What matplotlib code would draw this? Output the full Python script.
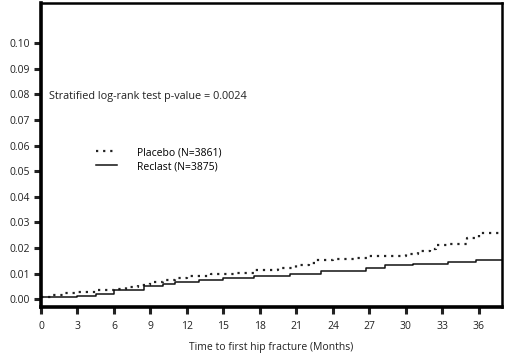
import matplotlib
matplotlib.use("Agg")
from matplotlib import pyplot as plt

# cumulative incidence (step curves)
placebo_t = [0, 1, 2, 3, 4.5, 6, 7, 8, 9, 10, 11, 12, 14, 16, 17.5, 18, 19.5, 21, 22, 22.5,
             24, 26, 27, 29, 30, 31, 32, 32.5, 33.5, 35, 36, 37.9]
placebo_y = [0.001, 0.0017, 0.0024, 0.0029, 0.0036, 0.0042, 0.0048, 0.0057, 0.0066, 0.0075,
             0.0083, 0.0091, 0.0097, 0.0103, 0.0116, 0.0113, 0.0122, 0.0133, 0.0142, 0.0152,
             0.0156, 0.0163, 0.0168, 0.0168, 0.0178, 0.0188, 0.0198, 0.021, 0.0215, 0.024,
             0.026, 0.026]
reclast_t = [0, 3, 4.5, 6, 7.5, 8.5, 10, 11, 13, 15, 17.5, 20.5, 23, 26.7, 28.3, 30.6, 33.5,
             35.8, 37.9]
reclast_y = [0.001, 0.0012, 0.0022, 0.0035, 0.0037, 0.005, 0.0061, 0.0068, 0.0077, 0.0083,
             0.009, 0.01, 0.011, 0.0124, 0.0133, 0.0139, 0.0146, 0.0155, 0.0155]

xticks = list(range(0, 37, 3))
yticks = [i / 100 for i in range(0, 11)]

plt.rcParams['font.family'] = ['Open Sans', 'DejaVu Sans']

fig = plt.figure(figsize=(5.16, 3.6), dpi=100)
ax = fig.add_axes([41 / 516, 1 - 307 / 360, 461 / 516, 304 / 360])

ax.plot(placebo_t, placebo_y, color='#222222', linestyle=(0, (1.0, 2.2)), linewidth=1.6,
        drawstyle='steps-post', label='Placebo (N=3861)')
ax.plot(reclast_t, reclast_y, color='#111111', linestyle='-', linewidth=1.1,
        drawstyle='steps-post', label='Reclast (N=3875)')

ax.set_xlim(0, 37.9)
ax.set_ylim(-0.003, 0.1156)
ax.set_xticks(xticks)
ax.set_yticks(yticks)
ax.set_yticklabels(['%.2f' % v for v in yticks])

for side in ['left', 'bottom']:
    ax.spines[side].set_linewidth(2.6)
for side in ['top', 'right']:
    ax.spines[side].set_linewidth(1.8)
ax.tick_params(axis='both', direction='out', length=5, width=2.2, labelsize=7.5, colors='#222222')
ax.tick_params(axis='x', pad=5)
ax.tick_params(axis='y', pad=3)

ax.set_xlabel('Time to first hip fracture (Months)', fontsize=7.5, color='#222222', labelpad=7)

ax.text(0.018, 0.692, 'Stratified log-rank test p-value = 0.0024', transform=ax.transAxes,
        fontsize=7.8, color='#222222', va='center')

ax.legend(loc='upper left', bbox_to_anchor=(0.11, 0.54), frameon=False, fontsize=7.5,
          handlelength=2.0, handletextpad=1.9, labelspacing=0.3, borderaxespad=0)

fig.savefig('out.png', dpi=100)
